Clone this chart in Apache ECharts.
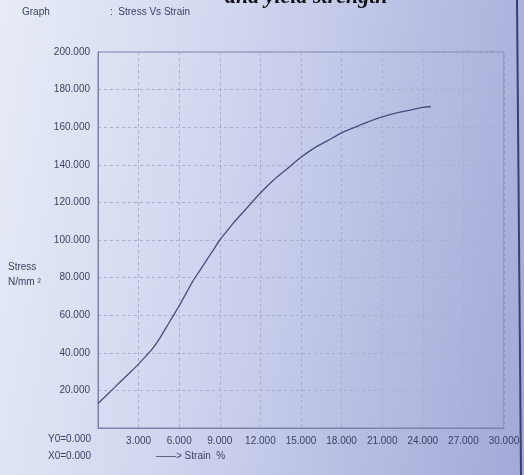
<!DOCTYPE html>
<html>
<head>
<meta charset="utf-8">
<script src="https://cdn.jsdelivr.net/npm/echarts@6/dist/echarts.min.js"></script>
<style>
  html, body { margin: 0; padding: 0; }
  #chart {
    width: 524px; height: 475px;
    background: linear-gradient(100deg, #e8ecf7 0%, #d0d6ef 40%, #b5bbe1 75%, #a3a9d7 100%);
  }
</style>
</head>
<body>
<div id="chart"></div>
<script>
// strain % vs stress N/mm²
const strain = [0, 0.5, 1, 1.5, 2, 2.5, 3, 3.5, 4, 4.5, 5, 5.5, 6, 6.5, 7, 7.5, 8, 8.5, 9, 9.5, 10,
  11, 12, 13, 14, 15, 16, 17, 18, 19, 20, 21, 22, 23, 24, 24.6];
const stress = [13, 16.5, 20, 23.5, 27, 30.5, 34, 38, 42, 47, 53, 59, 65, 71.5, 78, 83.5, 89, 94.5, 100, 104.5, 109,
  117, 125, 132, 138, 144, 149, 153, 157, 160, 163, 165.5, 167.5, 169, 170.5, 171];
const xTicks = [0, 3, 6, 9, 12, 15, 18, 21, 24, 27, 30];
const yTicks = [0, 20, 40, 60, 80, 100, 120, 140, 160, 180, 200];

const chart = echarts.init(document.getElementById('chart'));
const textColor = '#3d4266';
const font = 'Liberation Sans';

const option = {
  animation: false,
  grid: { left: 98, right: 20, top: 52, bottom: 47 },
  xAxis: {
    type: 'value',
    min: xTicks[0], max: xTicks[xTicks.length - 1], interval: 3,
    axisLine: { show: true, lineStyle: { color: '#7d83a8', width: 1 } },
    axisTick: { show: false },
    axisLabel: {
      color: textColor, fontFamily: font, fontSize: 10, margin: 8,
      formatter: v => v === 0 ? '' : v.toFixed(3)
    },
    splitLine: { show: true, lineStyle: { color: '#a8aecd', type: [3, 3], width: 1 } }
  },
  yAxis: {
    type: 'value',
    min: yTicks[0], max: yTicks[yTicks.length - 1], interval: 20,
    axisLine: { show: true, lineStyle: { color: '#7d83a8', width: 1 } },
    axisTick: { show: false },
    axisLabel: {
      color: textColor, fontFamily: font, fontSize: 10, margin: 8,
      formatter: v => v === 0 ? '' : v.toFixed(3)
    },
    splitLine: { show: true, lineStyle: { color: '#a8aecd', type: [3, 3], width: 1 } }
  },
  graphic: [
    { type: 'rect', shape: { x: 98, y: 52, width: 406, height: 376 }, style: { fill: 'none', stroke: '#7d83a8', lineWidth: 1 }, silent: true },
    { type: 'text', left: 225, top: -14, style: { text: 'and yield strength', font: 'italic bold 22px "Liberation Serif"', fill: '#111' } },
    { type: 'text', left: 22, top: 7, style: { text: 'Graph', font: '10px "Liberation Sans"', fill: textColor } },
    { type: 'text', left: 110, top: 7, style: { text: ':  Stress Vs Strain', font: '10px "Liberation Sans"', fill: textColor } },
    { type: 'text', left: 8, top: 262, style: { text: 'Stress', font: '10px "Liberation Sans"', fill: textColor } },
    { type: 'text', left: 8, top: 277, style: { text: 'N/mm ²', font: '10px "Liberation Sans"', fill: textColor } },
    { type: 'text', left: 48, top: 434, style: { text: 'Y0=0.000', font: '10px "Liberation Sans"', fill: textColor } },
    { type: 'text', left: 48, top: 451, style: { text: 'X0=0.000', font: '10px "Liberation Sans"', fill: textColor } },
    { type: 'text', left: 156, top: 451, style: { text: '——> Strain  %', font: '10px "Liberation Sans"', fill: textColor } },
    { type: 'line', shape: { x1: 517, y1: 0, x2: 521, y2: 475 }, style: { stroke: '#3a3f70', lineWidth: 2 } }
  ],
  series: [{
    type: 'line',
    data: strain.map((s, i) => [s, stress[i]]),
    showSymbol: false,
    smooth: 0.3,
    lineStyle: { color: '#474d82', width: 1.3 }
  }]
};
chart.setOption(option);
</script>
</body>
</html>
